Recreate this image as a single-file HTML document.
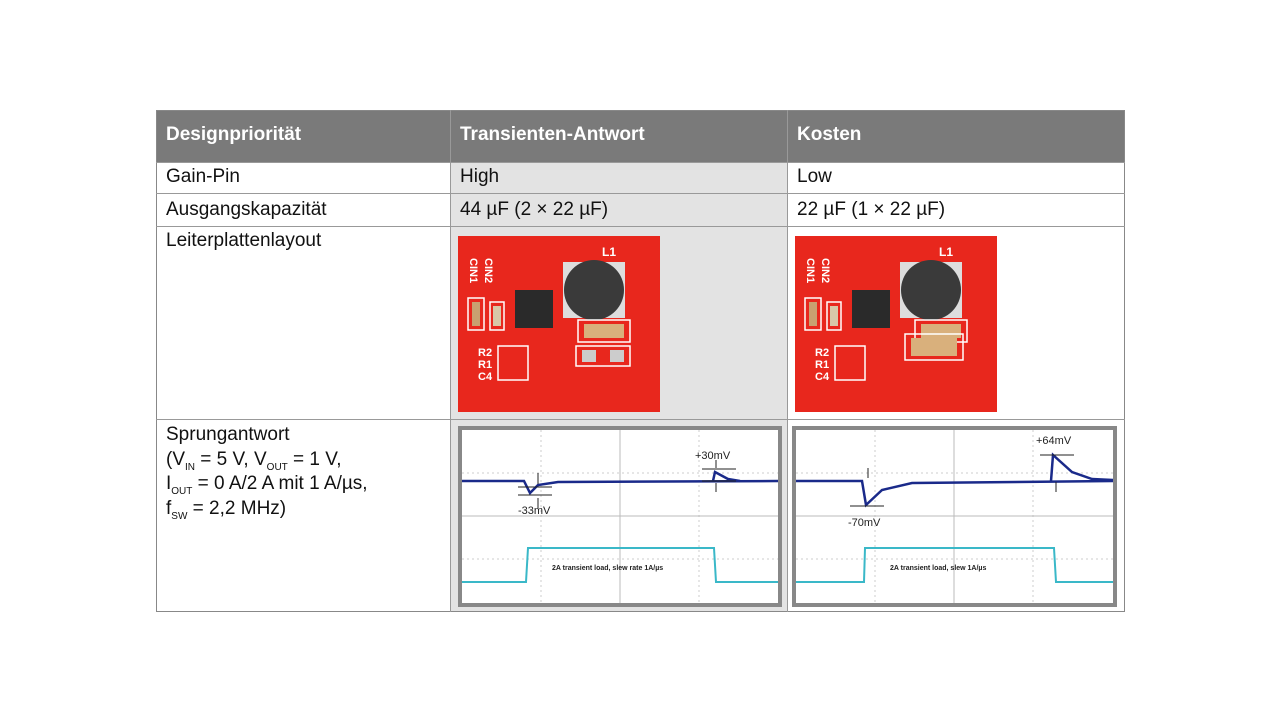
<!DOCTYPE html>
<html><head><meta charset="utf-8"><style>
body{margin:0;width:1280px;height:721px;background:#fff;position:relative;font-family:"Liberation Sans",sans-serif;overflow:hidden}
.a{position:absolute}
.h{color:#fff;font-weight:bold;font-size:19px}
.t{color:#111;font-size:19px}
sub{font-size:10px;vertical-align:baseline;position:relative;top:5px;line-height:0}
</style></head><body>
<div class="a" style="left:156px;top:110px;width:969px;height:52px;background:#7a7a7a"></div>
<div class="a" style="left:451px;top:162px;width:337px;height:450px;background:#e3e3e3"></div>
<div class="a" style="left:156px;top:110px;width:967px;height:500px;border:1px solid #888"></div>
<div class="a" style="left:156px;top:193px;width:969px;height:1px;background:#999"></div>
<div class="a" style="left:156px;top:226px;width:969px;height:1px;background:#999"></div>
<div class="a" style="left:156px;top:419px;width:969px;height:1px;background:#999"></div>
<div class="a" style="left:156px;top:162px;width:969px;height:1px;background:#999"></div>
<div class="a" style="left:450px;top:110px;width:1px;height:502px;background:#999"></div>
<div class="a" style="left:787px;top:110px;width:1px;height:502px;background:#999"></div>
<div class="a h" style="left:166px;top:124px">Designpriorität</div>
<div class="a h" style="left:460px;top:124px">Transienten-Antwort</div>
<div class="a h" style="left:797px;top:124px">Kosten</div>
<div class="a t" style="left:166px;top:166px">Gain-Pin</div>
<div class="a t" style="left:460px;top:166px">High</div>
<div class="a t" style="left:797px;top:166px">Low</div>
<div class="a t" style="left:166px;top:199px">Ausgangskapazität</div>
<div class="a t" style="left:460px;top:199px">44 µF (2 × 22 µF)</div>
<div class="a t" style="left:797px;top:199px">22 µF (1 × 22 µF)</div>
<div class="a t" style="left:166px;top:230px">Leiterplattenlayout</div>
<div class="a t" style="left:166px;top:423px;line-height:24.5px">Sprungantwort<br>(V<sub>IN</sub> = 5 V, V<sub>OUT</sub> = 1 V,<br>I<sub>OUT</sub> = 0 A/2 A mit 1 A/µs,<br>f<sub>SW</sub> = 2,2 MHz)</div>

<!-- PCB 1 -->
<svg class="a" style="left:458px;top:236px" width="202" height="176" viewBox="0 0 202 176" font-family="Liberation Sans">
<rect width="202" height="176" fill="#e8271d"/>
<text x="12" y="22" fill="#fff" font-size="11" font-weight="bold" transform="rotate(90 12 22)">CIN1</text>
<text x="27" y="22" fill="#fff" font-size="11" font-weight="bold" transform="rotate(90 27 22)">CIN2</text>
<rect x="10" y="62" width="16" height="32" fill="none" stroke="#fff" stroke-width="1.5"/><rect x="14" y="66" width="8" height="24" fill="#c9a070"/>
<rect x="32" y="66" width="14" height="28" fill="none" stroke="#fff" stroke-width="1.5"/><rect x="35" y="70" width="8" height="20" fill="#d8c8a8"/>
<rect x="57" y="54" width="38" height="38" fill="#2a2a2a"/>
<text x="110" y="66" fill="#fff" font-size="11" font-weight="bold">C3</text>
<rect x="105" y="26" width="62" height="56" fill="#ddd"/><circle cx="136" cy="54" r="30" fill="#3a3a3a"/>
<text x="144" y="20" fill="#fff" font-size="12" font-weight="bold">L1</text>
<rect x="120" y="84" width="52" height="22" fill="none" stroke="#fff" stroke-width="1.5"/><rect x="126" y="88" width="40" height="14" fill="#d9b07c"/>
<rect x="118" y="110" width="54" height="20" fill="none" stroke="#fff" stroke-width="1.5"/><rect x="124" y="114" width="14" height="12" fill="#ccc"/><rect x="152" y="114" width="14" height="12" fill="#ccc"/>
<text x="20" y="120" fill="#fff" font-size="11" font-weight="bold">R2</text>
<text x="20" y="132" fill="#fff" font-size="11" font-weight="bold">R1</text>
<text x="20" y="144" fill="#fff" font-size="11" font-weight="bold">C4</text>
<rect x="40" y="110" width="30" height="34" fill="none" stroke="#fff" stroke-width="1.5"/>
</svg>
<!-- PCB 2 -->
<svg class="a" style="left:795px;top:236px" width="202" height="176" viewBox="0 0 202 176" font-family="Liberation Sans">
<rect width="202" height="176" fill="#e8271d"/>
<text x="12" y="22" fill="#fff" font-size="11" font-weight="bold" transform="rotate(90 12 22)">CIN1</text>
<text x="27" y="22" fill="#fff" font-size="11" font-weight="bold" transform="rotate(90 27 22)">CIN2</text>
<rect x="10" y="62" width="16" height="32" fill="none" stroke="#fff" stroke-width="1.5"/><rect x="14" y="66" width="8" height="24" fill="#c9a070"/>
<rect x="32" y="66" width="14" height="28" fill="none" stroke="#fff" stroke-width="1.5"/><rect x="35" y="70" width="8" height="20" fill="#d8c8a8"/>
<rect x="57" y="54" width="38" height="38" fill="#2a2a2a"/>
<text x="110" y="66" fill="#fff" font-size="11" font-weight="bold">C3</text>
<rect x="105" y="26" width="62" height="56" fill="#ddd"/><circle cx="136" cy="54" r="30" fill="#3a3a3a"/>
<text x="144" y="20" fill="#fff" font-size="12" font-weight="bold">L1</text>
<rect x="120" y="84" width="52" height="22" fill="none" stroke="#fff" stroke-width="1.5"/><rect x="126" y="88" width="40" height="14" fill="#d9b07c"/>
<rect x="110" y="98" width="58" height="26" fill="none" stroke="#fff" stroke-width="1.5"/><rect x="116" y="102" width="46" height="18" fill="#d9b07c"/>
<text x="20" y="120" fill="#fff" font-size="11" font-weight="bold">R2</text>
<text x="20" y="132" fill="#fff" font-size="11" font-weight="bold">R1</text>
<text x="20" y="144" fill="#fff" font-size="11" font-weight="bold">C4</text>
<rect x="40" y="110" width="30" height="34" fill="none" stroke="#fff" stroke-width="1.5"/>
</svg>

<!-- Scope 1 -->
<svg class="a" style="left:458px;top:426px" width="324" height="181" viewBox="0 0 324 181" font-family="Liberation Sans">
<rect width="324" height="181" fill="#888"/><rect x="4" y="4" width="316" height="173" fill="#fff"/>
<g stroke="#ccc" stroke-dasharray="2 3"><line x1="4" y1="47" x2="320" y2="47"/><line x1="4" y1="90" x2="320" y2="90"/><line x1="4" y1="133" x2="320" y2="133"/><line x1="83" y1="4" x2="83" y2="177"/><line x1="241" y1="4" x2="241" y2="177"/></g>
<line x1="4" y1="90" x2="320" y2="90" stroke="#bbb"/><line x1="162" y1="4" x2="162" y2="177" stroke="#bbb"/>
<polyline points="4,55 66,55 72,67 80,59 100,56 320,55" fill="none" stroke="#1a2a8a" stroke-width="2.5"/>
<polyline points="255,55 257,46 270,53 282,55" fill="none" stroke="#1a2a8a" stroke-width="2.5"/>
<g stroke="#222" stroke-width="1"><line x1="60" y1="61" x2="94" y2="61"/><line x1="60" y1="69" x2="94" y2="69"/><line x1="80" y1="47" x2="80" y2="58"/><line x1="80" y1="72" x2="80" y2="82"/><line x1="244" y1="43" x2="278" y2="43"/><line x1="244" y1="55" x2="278" y2="55"/><line x1="258" y1="34" x2="258" y2="42"/><line x1="258" y1="57" x2="258" y2="66"/></g>
<polyline points="4,156 68,156 70,122 256,122 258,156 320,156" fill="none" stroke="#3ab8c8" stroke-width="2"/>
<text x="60" y="88" font-size="11" fill="#222">-33mV</text><text x="237" y="33" font-size="11" fill="#222">+30mV</text>
<text x="94" y="144" font-size="7" font-weight="bold" fill="#222">2A transient load, slew rate 1A/µs</text>
</svg>
<!-- Scope 2 -->
<svg class="a" style="left:792px;top:426px" width="325" height="181" viewBox="0 0 325 181" font-family="Liberation Sans">
<rect width="325" height="181" fill="#888"/><rect x="4" y="4" width="317" height="173" fill="#fff"/>
<g stroke="#ccc" stroke-dasharray="2 3"><line x1="4" y1="47" x2="321" y2="47"/><line x1="4" y1="90" x2="321" y2="90"/><line x1="4" y1="133" x2="321" y2="133"/><line x1="83" y1="4" x2="83" y2="177"/><line x1="241" y1="4" x2="241" y2="177"/></g>
<line x1="4" y1="90" x2="321" y2="90" stroke="#bbb"/><line x1="162" y1="4" x2="162" y2="177" stroke="#bbb"/>
<polyline points="4,55 70,55 74,79 90,64 120,57 321,55" fill="none" stroke="#1a2a8a" stroke-width="2.5"/>
<polyline points="259,55 261,29 280,46 300,53 321,54" fill="none" stroke="#1a2a8a" stroke-width="2.5"/>
<g stroke="#222" stroke-width="1"><line x1="58" y1="80" x2="92" y2="80"/><line x1="248" y1="29" x2="282" y2="29"/><line x1="76" y1="42" x2="76" y2="52"/><line x1="264" y1="56" x2="264" y2="66"/></g>
<polyline points="4,156 72,156 73,122 262,122 264,156 321,156" fill="none" stroke="#3ab8c8" stroke-width="2"/>
<text x="56" y="100" font-size="11" fill="#222">-70mV</text><text x="244" y="18" font-size="11" fill="#222">+64mV</text>
<text x="98" y="144" font-size="7" font-weight="bold" fill="#222">2A transient load, slew 1A/µs</text>
</svg>
</body></html>
